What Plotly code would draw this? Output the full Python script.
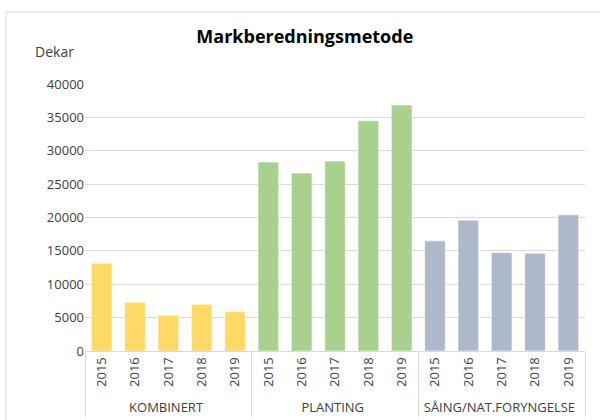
import plotly.graph_objects as go

groups = ["KOMBINERT", "PLANTING", "SÅING/NAT.FORYNGELSE"]
years = ["2015", "2016", "2017", "2018", "2019"]
kombinert = [13150, 7300, 5350, 7000, 5900]
planting = [28300, 26650, 28450, 34500, 36850]
saaing = [16500, 19600, 14750, 14650, 20400]
colors = ["#FFD966", "#A9D18E", "#ADB9CA"]
tick_vals = [0, 5000, 10000, 15000, 20000, 25000, 30000, 35000, 40000]

fig = go.Figure()
for g, vals, c in zip(groups, [kombinert, planting, saaing], colors):
    fig.add_trace(go.Bar(
        x=[[g] * len(years), years],
        y=vals,
        marker=dict(color=c, line=dict(color="rgba(255,255,255,0.6)", width=1)),
        showlegend=False,
    ))

fig.update_layout(
    width=600, height=420,
    margin=dict(l=85, r=15, t=84, b=69),
    paper_bgcolor="white", plot_bgcolor="white",
    bargap=0.38,
    font=dict(family="Open Sans, Noto Sans, sans-serif", size=13, color="#404040"),
    title=dict(text="<b>Markberedningsmetode</b>", x=0.508, xanchor="center",
               xref="container", y=1 - 37 / 420, yref="container", yanchor="middle",
               font=dict(size=18, color="#000000")),
    xaxis=dict(type="multicategory", tickangle=-90, showline=True, linecolor="#D9D9D9",
               linewidth=1, showdividers=True, dividercolor="#D9D9D9", dividerwidth=1,
               ticks="", automargin=False, tickfont=dict(size=13, color="#404040")),
    yaxis=dict(range=[0, 40000], tickvals=tick_vals, ticktext=[str(v) for v in tick_vals],
               showgrid=True, gridcolor="#D9D9D9", gridwidth=1, zeroline=False,
               ticks="", automargin=False, tickfont=dict(size=13, color="#404040")),
    shapes=[dict(type="rect", xref="paper", yref="paper",
                 x0=(6 - 85) / 500, x1=1.2, y0=-0.5, y1=(351 - 12) / 267,
                 line=dict(color="#D9D9D9", width=1), fillcolor="rgba(0,0,0,0)", layer="below")],
    annotations=[dict(text="Dekar", xref="paper", yref="paper",
                      x=(54 - 85) / 500, y=(351 - 52) / 267, xanchor="center", yanchor="middle",
                      showarrow=False, font=dict(size=14, color="#404040"))],
)

fig.write_html("out.html", config={"displayModeBar": False},
               post_script="document.body.style.margin='0';")
